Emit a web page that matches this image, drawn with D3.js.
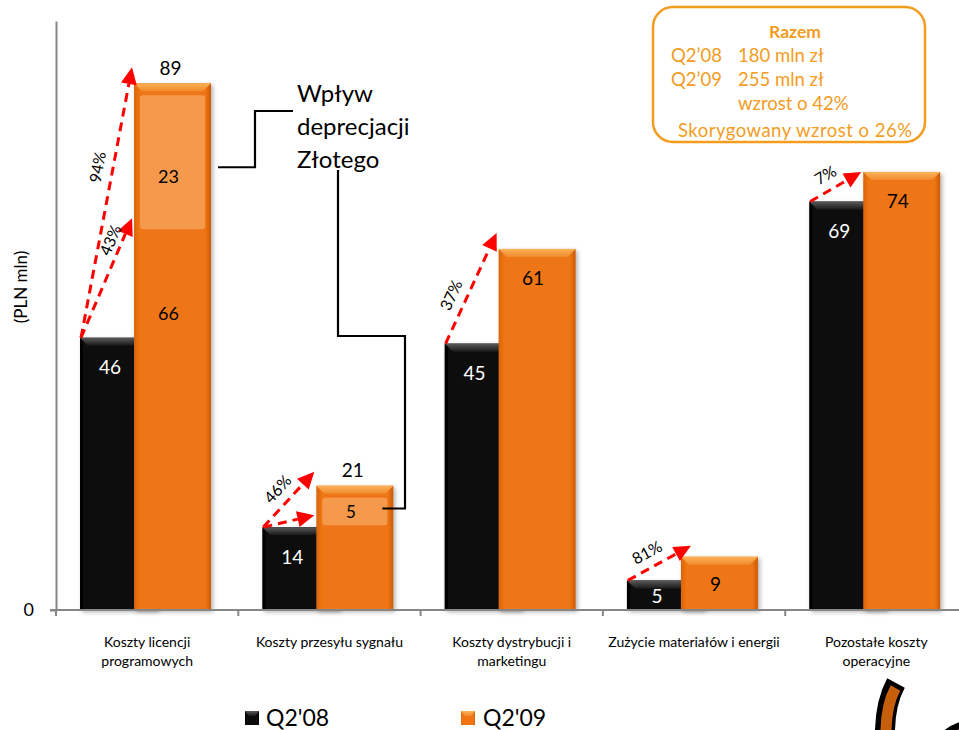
<!DOCTYPE html>
<html><head><meta charset="utf-8">
<script src="https://cdn.jsdelivr.net/npm/d3@7"></script>
<style>body{margin:0;background:#fff}svg{display:block}text{font-family:Lato,'Noto Sans',sans-serif}</style>
</head><body><svg id="c" width="959" height="730"></svg>
<script>
const categories = ["Koszty licencji programowych","Koszty przesyłu sygnału","Koszty dystrybucji i marketingu","Zużycie materiałów i energii","Pozostałe koszty operacyjne"];
const categoryLines = [["Koszty licencji","programowych"],["Koszty przesyłu sygnału"],["Koszty dystrybucji i","marketingu"],["Zużycie materiałów i energii"],["Pozostałe koszty","operacyjne"]];
const q208 = [46,14,45,5,69];
const q209 = [89,21,61,9,74];
const depreciation = [23,5,0,0,0];
const arrowCategory = [0,0,1,1,2,3,4];
const arrowFrom = [46,46,14,14,45,5,69];
const arrowTo = [89,66,21,16,61,9,74];
const arrowLabel = ["94%","43%","46%","","37%","81%","7%"];
const seriesNames = ["Q2'08","Q2'09"];
const yTicks = [0];
const yLabel = "(PLN mln)";
const boxTitle = "Razem";
const boxRows = [["Q2’08","180 mln zł"],["Q2’09","255 mln zł"],["","wzrost o 42%"]];
const boxFooter = "Skorygowany wzrost o 26%";
const calloutLines = ["Wpływ","deprecjacji","Złotego"];

const svg = d3.select("#c");
const base = 610;
const y = d3.scaleLinear().domain([0,99.5]).range([base,21]);
const x = d3.scaleBand().domain(categories).range([56,56+5*182.3]).padding(0);
const bw = x.bandwidth();
const barW = bw*0.4224;
const bx = i => x(categories[i]) + bw*0.1317;
const ox = i => x(categories[i]) + bw*0.428;

const defs = svg.append("defs");
function hgrad(id, edgeL, mid, edgeR){
  const g = defs.append("linearGradient").attr("id",id).attr("x1","0").attr("x2","1").attr("y1","0").attr("y2","0");
  [[0,edgeL],[0.07,mid],[0.93,mid],[1,edgeR]].forEach(s=>g.append("stop").attr("offset",s[0]).attr("stop-color",s[1]));
}
function vgrad(id, c1, c2){
  const g = defs.append("linearGradient").attr("id",id).attr("x1","0").attr("x2","0").attr("y1","0").attr("y2","1");
  g.append("stop").attr("offset",0).attr("stop-color",c1);
  g.append("stop").attr("offset",1).attr("stop-color",c2);
}
hgrad("gOr","#d8640c","#ef7612","#c9590a");
hgrad("gBk","#000","#0b0b0b","#000");
vgrad("gOrTop","#fbb35a","#f08a2c");
vgrad("gBkTop","#5a5a5a","#1a1a1a");
const f = defs.append("filter").attr("id","sh").attr("x","-20%").attr("y","-20%").attr("width","140%").attr("height","140%");
f.append("feDropShadow").attr("dx",2).attr("dy",2).attr("stdDeviation",2).attr("flood-color","#000").attr("flood-opacity",0.3);

function bar(g, x0, w, top, fillId, topId){
  const bg = g.append("g").attr("filter","url(#sh)");
  bg.append("rect").attr("x",x0).attr("y",top).attr("width",w).attr("height",base-top).attr("fill",`url(#${fillId})`);
  const b = Math.min(8,(base-top)/3);
  bg.append("polygon").attr("points",[[x0,top],[x0+w,top],[x0+w-b,top+b],[x0+b,top+b]].map(p=>p.join(",")).join(" ")).attr("fill",`url(#${topId})`);
}

// axes
const yAxis = d3.axisLeft(y).tickValues(yTicks).tickSize(6).tickSizeOuter(0).tickFormat(d3.format("d"));
const ya = svg.append("g").attr("transform","translate(56,0)").call(yAxis);
ya.select(".domain").attr("stroke","#868686").attr("stroke-width",2);
ya.selectAll(".tick line").attr("stroke","#868686").attr("stroke-width",2);
ya.selectAll(".tick text").attr("font-size",18).attr("fill","#000").attr("x",-22).attr("font-family","Lato,sans-serif");

svg.append("text").attr("transform","translate(27,287) rotate(-90)").attr("text-anchor","middle").attr("font-size",17).text(yLabel);

const bars = svg.append("g");
categories.forEach((c,i)=>{
  bar(bars, bx(i), barW, y(q208[i]), "gBk","gBkTop");
});
categories.forEach((c,i)=>{
  bar(bars, ox(i), barW, y(q209[i]), "gOr","gOrTop");
  if(depreciation[i]>0){
    bars.append("rect").attr("x",ox(i)+6).attr("width",barW-12)
      .attr("y",y(q209[i])+12).attr("height",(y(q209[i]-depreciation[i])+10)-(y(q209[i])+12))
      .attr("rx",3).attr("fill","#f59a4d");
  }
});

// baseline & category ticks
svg.append("line").attr("x1",50).attr("x2",959).attr("y1",base).attr("y2",base).attr("stroke","#868686").attr("stroke-width",2);
categories.forEach((c,i)=>{
  svg.append("line").attr("x1",x(c)).attr("x2",x(c)).attr("y1",base).attr("y2",base+6).attr("stroke","#868686").attr("stroke-width",2);
});

// category labels
categories.forEach((c,i)=>{
  const t = svg.append("text").attr("text-anchor","middle").attr("font-size",14).attr("fill","#000");
  categoryLines[i].forEach((ln,k)=>t.append("tspan").attr("x",x(c)+bw/2).attr("y",647+k*19).text(ln));
});

// value labels
const lab = svg.append("g").attr("font-size",19).attr("text-anchor","middle").attr("dominant-baseline","central");
categories.forEach((c,i)=>{
  const top = y(q208[i]);
  const cy = Math.min(top+29,(top+base)/2);
  lab.append("text").attr("x",(bx(i)+ox(i))/2+3).attr("y",cy).attr("fill","#fff").text(q208[i]);
  const ot = y(q209[i]);
  const oc = ox(i)+barW/2-4;
  if(depreciation[i]>0){
    lab.append("text").attr("x",oc+2).attr("y",ot-16).attr("fill","#000").text(q209[i]);
    const s0 = ot+12, s1 = y(q209[i]-depreciation[i])+10;
    lab.append("text").attr("x",oc).attr("y",(s0+s1)/2+(i===0?14:0)).attr("fill","#000").attr("font-size",i===0?18:17).text(depreciation[i]);
    if(i===0) lab.append("text").attr("x",oc).attr("y",y(q209[i]-depreciation[i])+94).attr("fill","#000").attr("font-size",18).text(q209[i]-depreciation[i]);
  } else {
    lab.append("text").attr("x",oc).attr("y",Math.min(ot+29,(ot+base)/2)).attr("fill","#000").text(q209[i]);
  }
});

// red growth arrows
const tipLift = [16,1,14,0,16,11,0];
const tipT = [0.62,0.78,0.5,0.5,0.38,0.42,0.45];
const ar = svg.append("g");
arrowCategory.forEach((ci,k)=>{
  const x1 = bx(ci)+1, y1 = y(arrowFrom[k]);
  const x2 = ox(ci)-2 + (ci===3?12:0), y2 = y(arrowTo[k]) - tipLift[k];
  const dx = x2-x1, dy = y2-y1, L = Math.hypot(dx,dy);
  const ux = dx/L, uy = dy/L, px = uy, py = -ux;
  const hl = 17, hw = 8;
  ar.append("line").attr("x1",x1).attr("y1",y1).attr("x2",x2-ux*hl).attr("y2",y2-uy*hl)
    .attr("stroke","#ff0000").attr("stroke-width",3).attr("stroke-dasharray","9,6");
  ar.append("polygon").attr("points",[[x2,y2],[x2-ux*hl+px*hw,y2-uy*hl+py*hw],[x2-ux*hl-px*hw,y2-uy*hl-py*hw]].map(p=>p.join(",")).join(" ")).attr("fill","#ff0000");
  if(arrowLabel[k]){
    const t = tipT[k];
    const mx = x1+dx*t, my = y1+dy*t;
    const off = k===1?12:16;
    const ang = Math.atan2(dy,dx)*180/Math.PI;
    ar.append("text").attr("transform",`translate(${mx - Math.abs(uy)*off},${my - Math.abs(ux)*off}) rotate(${ang})`)
      .attr("text-anchor","middle").attr("dominant-baseline","central").attr("font-size",16).attr("fill","#000").text(arrowLabel[k]);
  }
});

// callout
const co = svg.append("g");
const ct = co.append("text").attr("font-size",24).attr("fill","#000");
calloutLines.forEach((ln,k)=>ct.append("tspan").attr("x",297).attr("y",102+k*33).text(ln));
const seg0top = y(q209[0])+12, seg0bot = y(q209[0]-depreciation[0])+10;
const seg1top = y(q209[1])+12, seg1bot = y(q209[1]-depreciation[1])+10;
co.append("path").attr("d",`M${ox(0)+barW+7},${(seg0top+seg0bot)/2+5} H255 V111 H293`).attr("fill","none").attr("stroke","#000").attr("stroke-width",2.2);
co.append("path").attr("d",`M338,170 V336 H405 V${(seg1top+seg1bot)/2-3} H${ox(1)+barW-11}`).attr("fill","none").attr("stroke","#000").attr("stroke-width",2.2);

// summary box
const bxg = svg.append("g");
bxg.append("rect").attr("x",653).attr("y",7).attr("width",272).attr("height",135).attr("rx",20).attr("fill","#fff").attr("stroke","#f39c1e").attr("stroke-width",2.5);
bxg.append("text").attr("x",795).attr("y",38).attr("text-anchor","middle").attr("font-size",17.5).attr("font-weight","bold").attr("fill","#f39c1e").text(boxTitle);
boxRows.forEach((r,k)=>{
  bxg.append("text").attr("x",671).attr("y",62+k*24).attr("font-size",18.5).attr("fill","#f39c1e").text(r[0]);
  bxg.append("text").attr("x",738).attr("y",62+k*24).attr("font-size",18.5).attr("fill","#f39c1e").text(r[1]);
});
bxg.append("text").attr("x",678).attr("y",137).attr("font-size",18.5).attr("fill","#f39c1e").attr("textLength",234).text(boxFooter);

// legend
const lg = svg.append("g");
[[245,"gBk","gBkTop",266],[461,"gOr","gOrTop",483]].forEach((d,k)=>{
  lg.append("rect").attr("x",d[0]).attr("y",711).attr("width",14).attr("height",14).attr("fill",`url(#${d[1]})`);
  lg.append("polygon").attr("points",`${d[0]},711 ${d[0]+14},711 ${d[0]+10},716 ${d[0]+4},716`).attr("fill",`url(#${d[2]})`);
  lg.append("text").attr("x",d[3]).attr("y",726).attr("font-size",23).attr("fill","#000").text(seriesNames[k]);
});

// decorative logo fragment
const dec = svg.append("g").attr("fill","none");
dec.append("path").attr("d","M896,683 Q884,705 885,740").attr("stroke","#000").attr("stroke-width",20);
dec.append("path").attr("d","M895.5,688 Q885,707 886,740").attr("stroke","#c55f0b").attr("stroke-width",11);
dec.append("path").attr("d","M944,745 Q949,733 972,728").attr("stroke","#000").attr("stroke-width",18);
dec.append("path").attr("d","M946,745 Q951,735 972,731").attr("stroke","#c55f0b").attr("stroke-width",10);
</script></body></html>
